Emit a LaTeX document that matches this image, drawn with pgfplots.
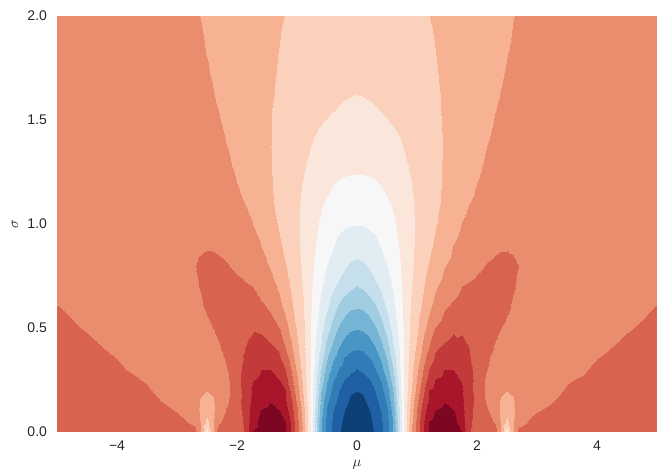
\documentclass[border=0pt]{standalone}
\usepackage{fontspec}
\setmainfont{Liberation Sans}
\usepackage{pgfplots}
\pgfplotsset{compat=1.18}
\usetikzlibrary{calc}
\definecolor{labgray}{RGB}{38,38,38}
\begin{document}
\begin{tikzpicture}
\begin{axis}[
  view={0}{90},
  scale only axis,
  width=450pt, height=312pt,
  xmin=-5, xmax=5, ymin=0, ymax=2,
  enlargelimits=false,
  axis line style={draw=none},
  major tick length=0pt,
  tick style={draw=none},
  ztick=\empty,
  xtick={-4,-2,0,2,4},
  xticklabels={−4,−2,0,2,4},
  ytick={0,0.5,1,1.5,2},
  yticklabels={0.0,0.5,1.0,1.5,2.0},
  tick label style={font=\fontsize{10.5}{12}\selectfont, text=labgray},
  xticklabel style={yshift=-3pt},
  yticklabel style={xshift=-4pt},
  colormap={rdbu}{rgb255=(125,7,35) rgb255=(169,21,42) rgb255=(195,58,59) rgb255=(216,100,80) rgb255=(234,141,111) rgb255=(246,178,147) rgb255=(251,209,187) rgb255=(250,230,219) rgb255=(247,247,247) rgb255=(225,236,243) rgb255=(198,223,237) rgb255=(161,205,226) rgb255=(118,180,213) rgb255=(72,150,197) rgb255=(49,123,183) rgb255=(30,96,163) rgb255=(13,64,119) rgb255=(13,64,119)},
  colormap access=piecewise constant,
  point meta min=0, point meta max=18,
]
\addplot3[surf, shader=interp, mesh/cols=61, mesh/ordering=x varies] coordinates {
(-5,0,3.6) (-4.5,0,3.6) (-4,0,3.6) (-3.5,0,3.6) (-3,0,3.6) (-2.85,0,3.62) (-2.7,0,3.7) (-2.6,0,5.05) (-2.5,0,7.5) (-2.4,0,5.05) (-2.3,0,3.45) (-2.15,0,3.4) (-2,0,3.35) (-1.85,0,2.88) (-1.75,0,1.0) (-1.6,0,0.65) (-1.45,0,0.3) (-1.3,0,0.66) (-1.2,0,0.9) (-1.1,0,2.0) (-1,0,3.57) (-0.9,0,5.2) (-0.8,0,7.5) (-0.7,0,10.33) (-0.6,0,13.0) (-0.5,0,14.4) (-0.4,0,15.25) (-0.3,0,15.88) (-0.2,0,16.37) (-0.1,0,16.65)
(0,0,16.75) (0.1,0,16.65) (0.2,0,16.37) (0.3,0,15.88) (0.4,0,15.25) (0.5,0,14.4) (0.6,0,13.0) (0.7,0,10.33) (0.8,0,7.5) (0.9,0,5.2) (1,0,3.57) (1.1,0,2.0) (1.2,0,0.9) (1.3,0,0.66) (1.45,0,0.3) (1.6,0,0.65) (1.75,0,1.0) (1.85,0,2.88) (2,0,3.35) (2.15,0,3.4) (2.3,0,3.45) (2.4,0,5.05) (2.5,0,7.5) (2.6,0,5.05) (2.7,0,3.7) (2.85,0,3.62) (3,0,3.6) (3.5,0,3.6) (4,0,3.6) (4.5,0,3.6) (5,0,3.6)
(-5,0.05,3.63) (-4.5,0.05,3.64) (-4,0.05,3.66) (-3.5,0.05,3.69) (-3,0.05,3.82) (-2.85,0.05,3.98) (-2.7,0.05,4.25) (-2.6,0.05,5.1) (-2.5,0.05,6.3) (-2.4,0.05,5.1) (-2.3,0.05,4.1) (-2.15,0.05,3.6) (-2,0.05,3.38) (-1.85,0.05,2.76) (-1.75,0.05,1.36) (-1.6,0.05,0.74) (-1.45,0.05,0.45) (-1.3,0.05,0.77) (-1.2,0.05,0.98) (-1.1,0.05,2.17) (-1,0.05,3.67) (-0.9,0.05,5.3) (-0.8,0.05,7.5) (-0.7,0.05,10.33) (-0.6,0.05,12.89) (-0.5,0.05,14.31) (-0.4,0.05,15.17) (-0.3,0.05,15.76) (-0.2,0.05,16.28) (-0.1,0.05,16.6)
(0,0.05,16.7) (0.1,0.05,16.6) (0.2,0.05,16.28) (0.3,0.05,15.76) (0.4,0.05,15.17) (0.5,0.05,14.31) (0.6,0.05,12.89) (0.7,0.05,10.33) (0.8,0.05,7.5) (0.9,0.05,5.3) (1,0.05,3.67) (1.1,0.05,2.17) (1.2,0.05,0.98) (1.3,0.05,0.77) (1.45,0.05,0.45) (1.6,0.05,0.74) (1.75,0.05,1.36) (1.85,0.05,2.76) (2,0.05,3.38) (2.15,0.05,3.6) (2.3,0.05,4.1) (2.4,0.05,5.1) (2.5,0.05,6.3) (2.6,0.05,5.1) (2.7,0.05,4.25) (2.85,0.05,3.98) (3,0.05,3.82) (3.5,0.05,3.69) (4,0.05,3.66) (4.5,0.05,3.64) (5,0.05,3.63)
(-5,0.1,3.66) (-4.5,0.1,3.68) (-4,0.1,3.71) (-3.5,0.1,3.78) (-3,0.1,4.02) (-2.85,0.1,4.15) (-2.7,0.1,4.5) (-2.6,0.1,5.2) (-2.5,0.1,5.6) (-2.4,0.1,5.2) (-2.3,0.1,4.4) (-2.15,0.1,3.85) (-2,0.1,3.4) (-1.85,0.1,2.6) (-1.75,0.1,1.67) (-1.6,0.1,0.91) (-1.45,0.1,0.73) (-1.3,0.1,0.93) (-1.2,0.1,1.42) (-1.1,0.1,2.5) (-1,0.1,3.88) (-0.9,0.1,5.55) (-0.8,0.1,7.56) (-0.7,0.1,10.09) (-0.6,0.1,12.63) (-0.5,0.1,14.13) (-0.4,0.1,15.0) (-0.3,0.1,15.54) (-0.2,0.1,16.08) (-0.1,0.1,16.43)
(0,0.1,16.55) (0.1,0.1,16.43) (0.2,0.1,16.08) (0.3,0.1,15.54) (0.4,0.1,15.0) (0.5,0.1,14.13) (0.6,0.1,12.63) (0.7,0.1,10.09) (0.8,0.1,7.56) (0.9,0.1,5.55) (1,0.1,3.88) (1.1,0.1,2.5) (1.2,0.1,1.42) (1.3,0.1,0.93) (1.45,0.1,0.73) (1.6,0.1,0.91) (1.75,0.1,1.67) (1.85,0.1,2.6) (2,0.1,3.4) (2.15,0.1,3.85) (2.3,0.1,4.4) (2.4,0.1,5.2) (2.5,0.1,5.6) (2.6,0.1,5.2) (2.7,0.1,4.5) (2.85,0.1,4.15) (3,0.1,4.02) (3.5,0.1,3.78) (4,0.1,3.71) (4.5,0.1,3.68) (5,0.1,3.66)
(-5,0.15,3.7) (-4.5,0.15,3.72) (-4,0.15,3.77) (-3.5,0.15,3.87) (-3,0.15,4.15) (-2.85,0.15,4.3) (-2.7,0.15,4.6) (-2.6,0.15,5.1) (-2.5,0.15,5.25) (-2.4,0.15,5.1) (-2.3,0.15,4.5) (-2.15,0.15,4.05) (-2,0.15,3.3) (-1.85,0.15,2.5) (-1.75,0.15,1.88) (-1.6,0.15,1.42) (-1.45,0.15,1.05) (-1.3,0.15,1.56) (-1.2,0.15,1.87) (-1.1,0.15,2.86) (-1,0.15,4.17) (-0.9,0.15,5.83) (-0.8,0.15,7.6) (-0.7,0.15,9.88) (-0.6,0.15,12.3) (-0.5,0.15,13.81) (-0.4,0.15,14.67) (-0.3,0.15,15.27) (-0.2,0.15,15.75) (-0.1,0.15,16.18)
(0,0.15,16.33) (0.1,0.15,16.18) (0.2,0.15,15.75) (0.3,0.15,15.27) (0.4,0.15,14.67) (0.5,0.15,13.81) (0.6,0.15,12.3) (0.7,0.15,9.88) (0.8,0.15,7.6) (0.9,0.15,5.83) (1,0.15,4.17) (1.1,0.15,2.86) (1.2,0.15,1.87) (1.3,0.15,1.56) (1.45,0.15,1.05) (1.6,0.15,1.42) (1.75,0.15,1.88) (1.85,0.15,2.5) (2,0.15,3.3) (2.15,0.15,4.05) (2.3,0.15,4.5) (2.4,0.15,5.1) (2.5,0.15,5.25) (2.6,0.15,5.1) (2.7,0.15,4.6) (2.85,0.15,4.3) (3,0.15,4.15) (3.5,0.15,3.87) (4,0.15,3.77) (4.5,0.15,3.72) (5,0.15,3.7)
(-5,0.2,3.73) (-4.5,0.2,3.77) (-4,0.2,3.83) (-3.5,0.2,3.96) (-3,0.2,4.28) (-2.85,0.2,4.4) (-2.7,0.2,4.6) (-2.6,0.2,4.85) (-2.5,0.2,4.97) (-2.4,0.2,4.85) (-2.3,0.2,4.5) (-2.15,0.2,4.15) (-2,0.2,3.45) (-1.85,0.2,2.5) (-1.75,0.2,1.93) (-1.6,0.2,1.6) (-1.45,0.2,1.48) (-1.3,0.2,1.79) (-1.2,0.2,2.0) (-1.1,0.2,3.25) (-1,0.2,4.57) (-0.9,0.2,6.07) (-0.8,0.2,7.64) (-0.7,0.2,9.67) (-0.6,0.2,11.94) (-0.5,0.2,13.36) (-0.4,0.2,14.31) (-0.3,0.2,14.99) (-0.2,0.2,15.53) (-0.1,0.2,15.86)
(0,0.2,15.97) (0.1,0.2,15.86) (0.2,0.2,15.53) (0.3,0.2,14.99) (0.4,0.2,14.31) (0.5,0.2,13.36) (0.6,0.2,11.94) (0.7,0.2,9.67) (0.8,0.2,7.64) (0.9,0.2,6.07) (1,0.2,4.57) (1.1,0.2,3.25) (1.2,0.2,2.0) (1.3,0.2,1.79) (1.45,0.2,1.48) (1.6,0.2,1.6) (1.75,0.2,1.93) (1.85,0.2,2.5) (2,0.2,3.45) (2.15,0.2,4.15) (2.3,0.2,4.5) (2.4,0.2,4.85) (2.5,0.2,4.97) (2.6,0.2,4.85) (2.7,0.2,4.6) (2.85,0.2,4.4) (3,0.2,4.28) (3.5,0.2,3.96) (4,0.2,3.83) (4.5,0.2,3.77) (5,0.2,3.73)
(-5,0.25,3.76) (-4.5,0.25,3.81) (-4,0.25,3.89) (-3.5,0.25,4.03) (-3,0.25,4.41) (-2.85,0.25,4.4) (-2.7,0.25,4.55) (-2.6,0.25,4.65) (-2.5,0.25,4.78) (-2.4,0.25,4.65) (-2.3,0.25,4.4) (-2.15,0.25,4.1) (-2,0.25,3.3) (-1.85,0.25,2.58) (-1.75,0.25,2.05) (-1.6,0.25,1.8) (-1.45,0.25,1.77) (-1.3,0.25,1.96) (-1.2,0.25,2.58) (-1.1,0.25,3.63) (-1,0.25,4.88) (-0.9,0.25,6.25) (-0.8,0.25,7.65) (-0.7,0.25,9.5) (-0.6,0.25,11.49) (-0.5,0.25,12.93) (-0.4,0.25,13.94) (-0.3,0.25,14.52) (-0.2,0.25,15.06) (-0.1,0.25,15.4)
(0,0.25,15.51) (0.1,0.25,15.4) (0.2,0.25,15.06) (0.3,0.25,14.52) (0.4,0.25,13.94) (0.5,0.25,12.93) (0.6,0.25,11.49) (0.7,0.25,9.5) (0.8,0.25,7.65) (0.9,0.25,6.25) (1,0.25,4.88) (1.1,0.25,3.63) (1.2,0.25,2.58) (1.3,0.25,1.96) (1.45,0.25,1.77) (1.6,0.25,1.8) (1.75,0.25,2.05) (1.85,0.25,2.58) (2,0.25,3.3) (2.15,0.25,4.1) (2.3,0.25,4.4) (2.4,0.25,4.65) (2.5,0.25,4.78) (2.6,0.25,4.65) (2.7,0.25,4.55) (2.85,0.25,4.4) (3,0.25,4.41) (3.5,0.25,4.03) (4,0.25,3.89) (4.5,0.25,3.81) (5,0.25,3.76)
(-5,0.3,3.8) (-4.5,0.3,3.85) (-4,0.3,3.94) (-3.5,0.3,4.13) (-3,0.3,4.45) (-2.85,0.3,4.42) (-2.7,0.3,4.45) (-2.6,0.3,4.5) (-2.5,0.3,4.55) (-2.4,0.3,4.45) (-2.3,0.3,4.3) (-2.15,0.3,3.97) (-2,0.3,3.25) (-1.85,0.3,2.74) (-1.75,0.3,2.42) (-1.6,0.3,1.99) (-1.45,0.3,1.99) (-1.3,0.3,2.48) (-1.2,0.3,2.95) (-1.1,0.3,4.0) (-1,0.3,5.14) (-0.9,0.3,6.42) (-0.8,0.3,7.65) (-0.7,0.3,9.32) (-0.6,0.3,11.08) (-0.5,0.3,12.43) (-0.4,0.3,13.39) (-0.3,0.3,14.09) (-0.2,0.3,14.47) (-0.1,0.3,14.85)
(0,0.3,15.06) (0.1,0.3,14.85) (0.2,0.3,14.47) (0.3,0.3,14.09) (0.4,0.3,13.39) (0.5,0.3,12.43) (0.6,0.3,11.08) (0.7,0.3,9.32) (0.8,0.3,7.65) (0.9,0.3,6.42) (1,0.3,5.14) (1.1,0.3,4.0) (1.2,0.3,2.95) (1.3,0.3,2.48) (1.45,0.3,1.99) (1.6,0.3,1.99) (1.75,0.3,2.42) (1.85,0.3,2.74) (2,0.3,3.25) (2.15,0.3,3.97) (2.3,0.3,4.3) (2.4,0.3,4.45) (2.5,0.3,4.55) (2.6,0.3,4.5) (2.7,0.3,4.45) (2.85,0.3,4.42) (3,0.3,4.45) (3.5,0.3,4.13) (4,0.3,3.94) (4.5,0.3,3.85) (5,0.3,3.8)
(-5,0.35,3.83) (-4.5,0.35,3.89) (-4,0.35,4.0) (-3.5,0.35,4.19) (-3,0.35,4.45) (-2.85,0.35,4.42) (-2.7,0.35,4.42) (-2.6,0.35,4.45) (-2.5,0.35,4.45) (-2.4,0.35,4.38) (-2.3,0.35,4.25) (-2.15,0.35,3.85) (-2,0.35,3.3) (-1.85,0.35,2.87) (-1.75,0.35,2.66) (-1.6,0.35,2.34) (-1.45,0.35,2.51) (-1.3,0.35,2.86) (-1.2,0.35,3.4) (-1.1,0.35,4.4) (-1,0.35,5.5) (-0.9,0.35,6.55) (-0.8,0.35,7.67) (-0.7,0.35,9.18) (-0.6,0.35,10.61) (-0.5,0.35,12.0) (-0.4,0.35,12.92) (-0.3,0.35,13.55) (-0.2,0.35,14.11) (-0.1,0.35,14.42)
(0,0.35,14.52) (0.1,0.35,14.42) (0.2,0.35,14.11) (0.3,0.35,13.55) (0.4,0.35,12.92) (0.5,0.35,12.0) (0.6,0.35,10.61) (0.7,0.35,9.18) (0.8,0.35,7.67) (0.9,0.35,6.55) (1,0.35,5.5) (1.1,0.35,4.4) (1.2,0.35,3.4) (1.3,0.35,2.86) (1.45,0.35,2.51) (1.6,0.35,2.34) (1.75,0.35,2.66) (1.85,0.35,2.87) (2,0.35,3.3) (2.15,0.35,3.85) (2.3,0.35,4.25) (2.4,0.35,4.38) (2.5,0.35,4.45) (2.6,0.35,4.45) (2.7,0.35,4.42) (2.85,0.35,4.42) (3,0.35,4.45) (3.5,0.35,4.19) (4,0.35,4.0) (4.5,0.35,3.89) (5,0.35,3.83)
(-5,0.4,3.86) (-4.5,0.4,3.93) (-4,0.4,4.05) (-3.5,0.4,4.25) (-3,0.4,4.45) (-2.85,0.4,4.42) (-2.7,0.4,4.4) (-2.6,0.4,4.38) (-2.5,0.4,4.35) (-2.4,0.4,4.25) (-2.3,0.4,4.08) (-2.15,0.4,3.7) (-2,0.4,3.25) (-1.85,0.4,2.96) (-1.75,0.4,2.78) (-1.6,0.4,2.5) (-1.45,0.4,2.76) (-1.3,0.4,3.08) (-1.2,0.4,3.92) (-1.1,0.4,4.75) (-1,0.4,5.78) (-0.9,0.4,6.64) (-0.8,0.4,7.7) (-0.7,0.4,9.04) (-0.6,0.4,10.15) (-0.5,0.4,11.49) (-0.4,0.4,12.39) (-0.3,0.4,13.1) (-0.2,0.4,13.59) (-0.1,0.4,13.88)
(0,0.4,13.98) (0.1,0.4,13.88) (0.2,0.4,13.59) (0.3,0.4,13.1) (0.4,0.4,12.39) (0.5,0.4,11.49) (0.6,0.4,10.15) (0.7,0.4,9.04) (0.8,0.4,7.7) (0.9,0.4,6.64) (1,0.4,5.78) (1.1,0.4,4.75) (1.2,0.4,3.92) (1.3,0.4,3.08) (1.45,0.4,2.76) (1.6,0.4,2.5) (1.75,0.4,2.78) (1.85,0.4,2.96) (2,0.4,3.25) (2.15,0.4,3.7) (2.3,0.4,4.08) (2.4,0.4,4.25) (2.5,0.4,4.35) (2.6,0.4,4.38) (2.7,0.4,4.4) (2.85,0.4,4.42) (3,0.4,4.45) (3.5,0.4,4.25) (4,0.4,4.05) (4.5,0.4,3.93) (5,0.4,3.86)
(-5,0.5,3.93) (-4.5,0.5,4.02) (-4,0.5,4.15) (-3.5,0.5,4.33) (-3,0.5,4.33) (-2.85,0.5,4.3) (-2.7,0.5,4.25) (-2.6,0.5,4.2) (-2.5,0.5,4.12) (-2.4,0.5,4.0) (-2.3,0.5,3.82) (-2.15,0.5,3.55) (-2,0.5,3.35) (-1.85,0.5,3.2) (-1.75,0.5,3.1) (-1.6,0.5,3.19) (-1.45,0.5,3.59) (-1.3,0.5,4.0) (-1.2,0.5,4.63) (-1.1,0.5,5.33) (-1,0.5,6.13) (-0.9,0.5,6.77) (-0.8,0.5,7.68) (-0.7,0.5,8.75) (-0.6,0.5,9.61) (-0.5,0.5,10.56) (-0.4,0.5,11.43) (-0.3,0.5,12.12) (-0.2,0.5,12.58) (-0.1,0.5,12.85)
(0,0.5,12.94) (0.1,0.5,12.85) (0.2,0.5,12.58) (0.3,0.5,12.12) (0.4,0.5,11.43) (0.5,0.5,10.56) (0.6,0.5,9.61) (0.7,0.5,8.75) (0.8,0.5,7.68) (0.9,0.5,6.77) (1,0.5,6.13) (1.1,0.5,5.33) (1.2,0.5,4.63) (1.3,0.5,4.0) (1.45,0.5,3.59) (1.6,0.5,3.19) (1.75,0.5,3.1) (1.85,0.5,3.2) (2,0.5,3.35) (2.15,0.5,3.55) (2.3,0.5,3.82) (2.4,0.5,4.0) (2.5,0.5,4.12) (2.6,0.5,4.2) (2.7,0.5,4.25) (2.85,0.5,4.3) (3,0.5,4.33) (3.5,0.5,4.33) (4,0.5,4.15) (4.5,0.5,4.02) (5,0.5,3.93)
(-5,0.6,3.99) (-4.5,0.6,4.09) (-4,0.6,4.22) (-3.5,0.6,4.3) (-3,0.6,4.24) (-2.85,0.6,4.2) (-2.7,0.6,4.14) (-2.6,0.6,4.06) (-2.5,0.6,3.92) (-2.4,0.6,3.76) (-2.3,0.6,3.62) (-2.15,0.6,3.45) (-2,0.6,3.37) (-1.85,0.6,3.49) (-1.75,0.6,3.63) (-1.6,0.6,3.83) (-1.45,0.6,4.12) (-1.3,0.6,4.72) (-1.2,0.6,5.19) (-1.1,0.6,5.81) (-1,0.6,6.39) (-0.9,0.6,6.94) (-0.8,0.6,7.7) (-0.7,0.6,8.5) (-0.6,0.6,9.23) (-0.5,0.6,9.83) (-0.4,0.6,10.52) (-0.3,0.6,11.18) (-0.2,0.6,11.61) (-0.1,0.6,11.86)
(0,0.6,11.95) (0.1,0.6,11.86) (0.2,0.6,11.61) (0.3,0.6,11.18) (0.4,0.6,10.52) (0.5,0.6,9.83) (0.6,0.6,9.23) (0.7,0.6,8.5) (0.8,0.6,7.7) (0.9,0.6,6.94) (1,0.6,6.39) (1.1,0.6,5.81) (1.2,0.6,5.19) (1.3,0.6,4.72) (1.45,0.6,4.12) (1.6,0.6,3.83) (1.75,0.6,3.63) (1.85,0.6,3.49) (2,0.6,3.37) (2.15,0.6,3.45) (2.3,0.6,3.62) (2.4,0.6,3.76) (2.5,0.6,3.92) (2.6,0.6,4.06) (2.7,0.6,4.14) (2.85,0.6,4.2) (3,0.6,4.24) (3.5,0.6,4.3) (4,0.6,4.22) (4.5,0.6,4.09) (5,0.6,3.99)
(-5,0.7,4.1) (-4.5,0.7,4.18) (-4,0.7,4.28) (-3.5,0.7,4.28) (-3,0.7,4.2) (-2.85,0.7,4.15) (-2.7,0.7,4.07) (-2.6,0.7,3.96) (-2.5,0.7,3.82) (-2.4,0.7,3.72) (-2.3,0.7,3.65) (-2.15,0.7,3.64) (-2,0.7,3.78) (-1.85,0.7,3.91) (-1.75,0.7,4.0) (-1.6,0.7,4.36) (-1.45,0.7,4.71) (-1.3,0.7,5.14) (-1.2,0.7,5.62) (-1.1,0.7,6.1) (-1,0.7,6.57) (-0.9,0.7,7.06) (-0.8,0.7,7.67) (-0.7,0.7,8.29) (-0.6,0.7,8.9) (-0.5,0.7,9.38) (-0.4,0.7,9.83) (-0.3,0.7,10.19) (-0.2,0.7,10.51) (-0.1,0.7,10.83)
(0,0.7,11.02) (0.1,0.7,10.83) (0.2,0.7,10.51) (0.3,0.7,10.19) (0.4,0.7,9.83) (0.5,0.7,9.38) (0.6,0.7,8.9) (0.7,0.7,8.29) (0.8,0.7,7.67) (0.9,0.7,7.06) (1,0.7,6.57) (1.1,0.7,6.1) (1.2,0.7,5.62) (1.3,0.7,5.14) (1.45,0.7,4.71) (1.6,0.7,4.36) (1.75,0.7,4.0) (1.85,0.7,3.91) (2,0.7,3.78) (2.15,0.7,3.64) (2.3,0.7,3.65) (2.4,0.7,3.72) (2.5,0.7,3.82) (2.6,0.7,3.96) (2.7,0.7,4.07) (2.85,0.7,4.15) (3,0.7,4.2) (3.5,0.7,4.28) (4,0.7,4.28) (4.5,0.7,4.18) (5,0.7,4.1)
(-5,0.8,4.15) (-4.5,0.8,4.2) (-4,0.8,4.24) (-3.5,0.8,4.22) (-3,0.8,4.13) (-2.85,0.8,4.08) (-2.7,0.8,4.01) (-2.6,0.8,3.92) (-2.5,0.8,3.87) (-2.4,0.8,3.86) (-2.3,0.8,3.9) (-2.15,0.8,3.97) (-2,0.8,4.16) (-1.85,0.8,4.39) (-1.75,0.8,4.55) (-1.6,0.8,4.78) (-1.45,0.8,5.04) (-1.3,0.8,5.57) (-1.2,0.8,5.93) (-1.1,0.8,6.32) (-1,0.8,6.72) (-0.9,0.8,7.15) (-0.8,0.8,7.63) (-0.7,0.8,8.11) (-0.6,0.8,8.57) (-0.5,0.8,9.02) (-0.4,0.8,9.32) (-0.3,0.8,9.62) (-0.2,0.8,9.92) (-0.1,0.8,10.15)
(0,0.8,10.23) (0.1,0.8,10.15) (0.2,0.8,9.92) (0.3,0.8,9.62) (0.4,0.8,9.32) (0.5,0.8,9.02) (0.6,0.8,8.57) (0.7,0.8,8.11) (0.8,0.8,7.63) (0.9,0.8,7.15) (1,0.8,6.72) (1.1,0.8,6.32) (1.2,0.8,5.93) (1.3,0.8,5.57) (1.45,0.8,5.04) (1.6,0.8,4.78) (1.75,0.8,4.55) (1.85,0.8,4.39) (2,0.8,4.16) (2.15,0.8,3.97) (2.3,0.8,3.9) (2.4,0.8,3.86) (2.5,0.8,3.87) (2.6,0.8,3.92) (2.7,0.8,4.01) (2.85,0.8,4.08) (3,0.8,4.13) (3.5,0.8,4.22) (4,0.8,4.24) (4.5,0.8,4.2) (5,0.8,4.15)
(-5,0.9,4.22) (-4.5,0.9,4.25) (-4,0.9,4.27) (-3.5,0.9,4.25) (-3,0.9,4.18) (-2.85,0.9,4.15) (-2.7,0.9,4.1) (-2.6,0.9,4.07) (-2.5,0.9,4.05) (-2.4,0.9,4.06) (-2.3,0.9,4.1) (-2.15,0.9,4.2) (-2,0.9,4.38) (-1.85,0.9,4.6) (-1.75,0.9,4.75) (-1.6,0.9,5.0) (-1.45,0.9,5.44) (-1.3,0.9,5.88) (-1.2,0.9,6.19) (-1.1,0.9,6.52) (-1,0.9,6.84) (-0.9,0.9,7.19) (-0.8,0.9,7.58) (-0.7,0.9,7.97) (-0.6,0.9,8.3) (-0.5,0.9,8.63) (-0.4,0.9,8.95) (-0.3,0.9,9.22) (-0.2,0.9,9.41) (-0.1,0.9,9.52)
(0,0.9,9.56) (0.1,0.9,9.52) (0.2,0.9,9.41) (0.3,0.9,9.22) (0.4,0.9,8.95) (0.5,0.9,8.63) (0.6,0.9,8.3) (0.7,0.9,7.97) (0.8,0.9,7.58) (0.9,0.9,7.19) (1,0.9,6.84) (1.1,0.9,6.52) (1.2,0.9,6.19) (1.3,0.9,5.88) (1.45,0.9,5.44) (1.6,0.9,5.0) (1.75,0.9,4.75) (1.85,0.9,4.6) (2,0.9,4.38) (2.15,0.9,4.2) (2.3,0.9,4.1) (2.4,0.9,4.06) (2.5,0.9,4.05) (2.6,0.9,4.07) (2.7,0.9,4.1) (2.85,0.9,4.15) (3,0.9,4.18) (3.5,0.9,4.25) (4,0.9,4.27) (4.5,0.9,4.25) (5,0.9,4.22)
(-5,1,4.28) (-4.5,1,4.3) (-4,1,4.3) (-3.5,1,4.28) (-3,1,4.24) (-2.85,1,4.23) (-2.7,1,4.22) (-2.6,1,4.22) (-2.5,1,4.24) (-2.4,1,4.28) (-2.3,1,4.34) (-2.15,1,4.46) (-2,1,4.62) (-1.85,1,4.82) (-1.75,1,4.97) (-1.6,1,5.33) (-1.45,1,5.7) (-1.3,1,6.08) (-1.2,1,6.35) (-1.1,1,6.62) (-1,1,6.89) (-0.9,1,7.19) (-0.8,1,7.51) (-0.7,1,7.82) (-0.6,1,8.13) (-0.5,1,8.39) (-0.4,1,8.6) (-0.3,1,8.76) (-0.2,1,8.88) (-0.1,1,8.95)
(0,1,8.97) (0.1,1,8.95) (0.2,1,8.88) (0.3,1,8.76) (0.4,1,8.6) (0.5,1,8.39) (0.6,1,8.13) (0.7,1,7.82) (0.8,1,7.51) (0.9,1,7.19) (1,1,6.89) (1.1,1,6.62) (1.2,1,6.35) (1.3,1,6.08) (1.45,1,5.7) (1.6,1,5.33) (1.75,1,4.97) (1.85,1,4.82) (2,1,4.62) (2.15,1,4.46) (2.3,1,4.34) (2.4,1,4.28) (2.5,1,4.24) (2.6,1,4.22) (2.7,1,4.22) (2.85,1,4.23) (3,1,4.24) (3.5,1,4.28) (4,1,4.3) (4.5,1,4.3) (5,1,4.28)
(-5,1.1,4.3) (-4.5,1.1,4.32) (-4,1.1,4.33) (-3.5,1.1,4.33) (-3,1.1,4.34) (-2.85,1.1,4.35) (-2.7,1.1,4.37) (-2.6,1.1,4.4) (-2.5,1.1,4.44) (-2.4,1.1,4.5) (-2.3,1.1,4.57) (-2.15,1.1,4.7) (-2,1.1,4.85) (-1.85,1.1,5.04) (-1.75,1.1,5.24) (-1.6,1.1,5.55) (-1.45,1.1,5.86) (-1.3,1.1,6.19) (-1.2,1.1,6.42) (-1.1,1.1,6.65) (-1,1.1,6.88) (-0.9,1.1,7.13) (-0.8,1.1,7.39) (-0.7,1.1,7.64) (-0.6,1.1,7.9) (-0.5,1.1,8.11) (-0.4,1.1,8.27) (-0.3,1.1,8.39) (-0.2,1.1,8.47) (-0.1,1.1,8.52)
(0,1.1,8.54) (0.1,1.1,8.52) (0.2,1.1,8.47) (0.3,1.1,8.39) (0.4,1.1,8.27) (0.5,1.1,8.11) (0.6,1.1,7.9) (0.7,1.1,7.64) (0.8,1.1,7.39) (0.9,1.1,7.13) (1,1.1,6.88) (1.1,1.1,6.65) (1.2,1.1,6.42) (1.3,1.1,6.19) (1.45,1.1,5.86) (1.6,1.1,5.55) (1.75,1.1,5.24) (1.85,1.1,5.04) (2,1.1,4.85) (2.15,1.1,4.7) (2.3,1.1,4.57) (2.4,1.1,4.5) (2.5,1.1,4.44) (2.6,1.1,4.4) (2.7,1.1,4.37) (2.85,1.1,4.35) (3,1.1,4.34) (3.5,1.1,4.33) (4,1.1,4.33) (4.5,1.1,4.32) (5,1.1,4.3)
(-5,1.2,4.33) (-4.5,1.2,4.34) (-4,1.2,4.35) (-3.5,1.2,4.37) (-3,1.2,4.41) (-2.85,1.2,4.44) (-2.7,1.2,4.48) (-2.6,1.2,4.52) (-2.5,1.2,4.57) (-2.4,1.2,4.63) (-2.3,1.2,4.7) (-2.15,1.2,4.84) (-2,1.2,5.01) (-1.85,1.2,5.25) (-1.75,1.2,5.42) (-1.6,1.2,5.68) (-1.45,1.2,5.93) (-1.3,1.2,6.22) (-1.2,1.2,6.42) (-1.1,1.2,6.62) (-1,1.2,6.82) (-0.9,1.2,7.02) (-0.8,1.2,7.2) (-0.7,1.2,7.39) (-0.6,1.2,7.58) (-0.5,1.2,7.76) (-0.4,1.2,7.95) (-0.3,1.2,8.04) (-0.2,1.2,8.08) (-0.1,1.2,8.1)
(0,1.2,8.11) (0.1,1.2,8.1) (0.2,1.2,8.08) (0.3,1.2,8.04) (0.4,1.2,7.95) (0.5,1.2,7.76) (0.6,1.2,7.58) (0.7,1.2,7.39) (0.8,1.2,7.2) (0.9,1.2,7.02) (1,1.2,6.82) (1.1,1.2,6.62) (1.2,1.2,6.42) (1.3,1.2,6.22) (1.45,1.2,5.93) (1.6,1.2,5.68) (1.75,1.2,5.42) (1.85,1.2,5.25) (2,1.2,5.01) (2.15,1.2,4.84) (2.3,1.2,4.7) (2.4,1.2,4.63) (2.5,1.2,4.57) (2.6,1.2,4.52) (2.7,1.2,4.48) (2.85,1.2,4.44) (3,1.2,4.41) (3.5,1.2,4.37) (4,1.2,4.35) (4.5,1.2,4.34) (5,1.2,4.33)
(-5,1.4,4.35) (-4.5,1.4,4.37) (-4,1.4,4.4) (-3.5,1.4,4.46) (-3,1.4,4.56) (-2.85,1.4,4.61) (-2.7,1.4,4.67) (-2.6,1.4,4.72) (-2.5,1.4,4.77) (-2.4,1.4,4.83) (-2.3,1.4,4.9) (-2.15,1.4,5.04) (-2,1.4,5.24) (-1.85,1.4,5.44) (-1.75,1.4,5.57) (-1.6,1.4,5.77) (-1.45,1.4,5.97) (-1.3,1.4,6.19) (-1.2,1.4,6.33) (-1.1,1.4,6.48) (-1,1.4,6.62) (-0.9,1.4,6.77) (-0.8,1.4,6.91) (-0.7,1.4,7.06) (-0.6,1.4,7.19) (-0.5,1.4,7.3) (-0.4,1.4,7.39) (-0.3,1.4,7.46) (-0.2,1.4,7.51) (-0.1,1.4,7.54)
(0,1.4,7.55) (0.1,1.4,7.54) (0.2,1.4,7.51) (0.3,1.4,7.46) (0.4,1.4,7.39) (0.5,1.4,7.3) (0.6,1.4,7.19) (0.7,1.4,7.06) (0.8,1.4,6.91) (0.9,1.4,6.77) (1,1.4,6.62) (1.1,1.4,6.48) (1.2,1.4,6.33) (1.3,1.4,6.19) (1.45,1.4,5.97) (1.6,1.4,5.77) (1.75,1.4,5.57) (1.85,1.4,5.44) (2,1.4,5.24) (2.15,1.4,5.04) (2.3,1.4,4.9) (2.4,1.4,4.83) (2.5,1.4,4.77) (2.6,1.4,4.72) (2.7,1.4,4.67) (2.85,1.4,4.61) (3,1.4,4.56) (3.5,1.4,4.46) (4,1.4,4.4) (4.5,1.4,4.37) (5,1.4,4.35)
(-5,1.6,4.37) (-4.5,1.6,4.4) (-4,1.6,4.45) (-3.5,1.6,4.52) (-3,1.6,4.65) (-2.85,1.6,4.71) (-2.7,1.6,4.78) (-2.6,1.6,4.84) (-2.5,1.6,4.9) (-2.4,1.6,4.97) (-2.3,1.6,5.05) (-2.15,1.6,5.21) (-2,1.6,5.37) (-1.85,1.6,5.53) (-1.75,1.6,5.63) (-1.6,1.6,5.79) (-1.45,1.6,5.95) (-1.3,1.6,6.08) (-1.2,1.6,6.17) (-1.1,1.6,6.25) (-1,1.6,6.33) (-0.9,1.6,6.42) (-0.8,1.6,6.5) (-0.7,1.6,6.58) (-0.6,1.6,6.67) (-0.5,1.6,6.75) (-0.4,1.6,6.83) (-0.3,1.6,6.92) (-0.2,1.6,6.99) (-0.1,1.6,7.02)
(0,1.6,7.04) (0.1,1.6,7.02) (0.2,1.6,6.99) (0.3,1.6,6.92) (0.4,1.6,6.83) (0.5,1.6,6.75) (0.6,1.6,6.67) (0.7,1.6,6.58) (0.8,1.6,6.5) (0.9,1.6,6.42) (1,1.6,6.33) (1.1,1.6,6.25) (1.2,1.6,6.17) (1.3,1.6,6.08) (1.45,1.6,5.95) (1.6,1.6,5.79) (1.75,1.6,5.63) (1.85,1.6,5.53) (2,1.6,5.37) (2.15,1.6,5.21) (2.3,1.6,5.05) (2.4,1.6,4.97) (2.5,1.6,4.9) (2.6,1.6,4.84) (2.7,1.6,4.78) (2.85,1.6,4.71) (3,1.6,4.65) (3.5,1.6,4.52) (4,1.6,4.45) (4.5,1.6,4.4) (5,1.6,4.37)
(-5,1.8,4.4) (-4.5,1.8,4.44) (-4,1.8,4.5) (-3.5,1.8,4.6) (-3,1.8,4.76) (-2.85,1.8,4.82) (-2.7,1.8,4.89) (-2.6,1.8,4.94) (-2.5,1.8,5.0) (-2.4,1.8,5.08) (-2.3,1.8,5.17) (-2.15,1.8,5.3) (-2,1.8,5.42) (-1.85,1.8,5.55) (-1.75,1.8,5.64) (-1.6,1.8,5.76) (-1.45,1.8,5.89) (-1.3,1.8,6.02) (-1.2,1.8,6.12) (-1.1,1.8,6.21) (-1,1.8,6.29) (-0.9,1.8,6.36) (-0.8,1.8,6.43) (-0.7,1.8,6.49) (-0.6,1.8,6.54) (-0.5,1.8,6.58) (-0.4,1.8,6.62) (-0.3,1.8,6.64) (-0.2,1.8,6.66) (-0.1,1.8,6.68)
(0,1.8,6.68) (0.1,1.8,6.68) (0.2,1.8,6.66) (0.3,1.8,6.64) (0.4,1.8,6.62) (0.5,1.8,6.58) (0.6,1.8,6.54) (0.7,1.8,6.49) (0.8,1.8,6.43) (0.9,1.8,6.36) (1,1.8,6.29) (1.1,1.8,6.21) (1.2,1.8,6.12) (1.3,1.8,6.02) (1.45,1.8,5.89) (1.6,1.8,5.76) (1.75,1.8,5.64) (1.85,1.8,5.55) (2,1.8,5.42) (2.15,1.8,5.3) (2.3,1.8,5.17) (2.4,1.8,5.08) (2.5,1.8,5.0) (2.6,1.8,4.94) (2.7,1.8,4.89) (2.85,1.8,4.82) (3,1.8,4.76) (3.5,1.8,4.6) (4,1.8,4.5) (4.5,1.8,4.44) (5,1.8,4.4)
(-5,2,4.38) (-4.5,2,4.44) (-4,2,4.52) (-3.5,2,4.64) (-3,2,4.82) (-2.85,2,4.89) (-2.7,2,4.96) (-2.6,2,5.01) (-2.5,2,5.09) (-2.4,2,5.16) (-2.3,2,5.23) (-2.15,2,5.33) (-2,2,5.44) (-1.85,2,5.55) (-1.75,2,5.62) (-1.6,2,5.72) (-1.45,2,5.83) (-1.3,2,5.94) (-1.2,2,6.01) (-1.1,2,6.06) (-1,2,6.11) (-0.9,2,6.16) (-0.8,2,6.2) (-0.7,2,6.23) (-0.6,2,6.26) (-0.5,2,6.29) (-0.4,2,6.31) (-0.3,2,6.33) (-0.2,2,6.34) (-0.1,2,6.35)
(0,2,6.35) (0.1,2,6.35) (0.2,2,6.34) (0.3,2,6.33) (0.4,2,6.31) (0.5,2,6.29) (0.6,2,6.26) (0.7,2,6.23) (0.8,2,6.2) (0.9,2,6.16) (1,2,6.11) (1.1,2,6.06) (1.2,2,6.01) (1.3,2,5.94) (1.45,2,5.83) (1.6,2,5.72) (1.75,2,5.62) (1.85,2,5.55) (2,2,5.44) (2.15,2,5.33) (2.3,2,5.23) (2.4,2,5.16) (2.5,2,5.09) (2.6,2,5.01) (2.7,2,4.96) (2.85,2,4.89) (3,2,4.82) (3.5,2,4.64) (4,2,4.52) (4.5,2,4.44) (5,2,4.38)
};
\coordinate (LL) at (axis cs:-5,0,0);
\coordinate (UR) at (axis cs:5,2,0);
\end{axis}
\node[rotate=90, text=labgray, font=\fontsize{11}{13}\selectfont] at ($(LL)!0.5!(LL|-UR)+(-31.5pt,0)$) {$\sigma$};
\node[text=labgray, font=\fontsize{11}{13}\selectfont] at ($(LL)!0.5!(UR|-LL)+(0,-24.75pt)$) {$\mu$};
\pgfresetboundingbox
\path[use as bounding box] ($(LL)+(-42.75pt,-31.5pt)$) rectangle ($(UR)+(0,12pt)$);
\end{tikzpicture}
\end{document}
